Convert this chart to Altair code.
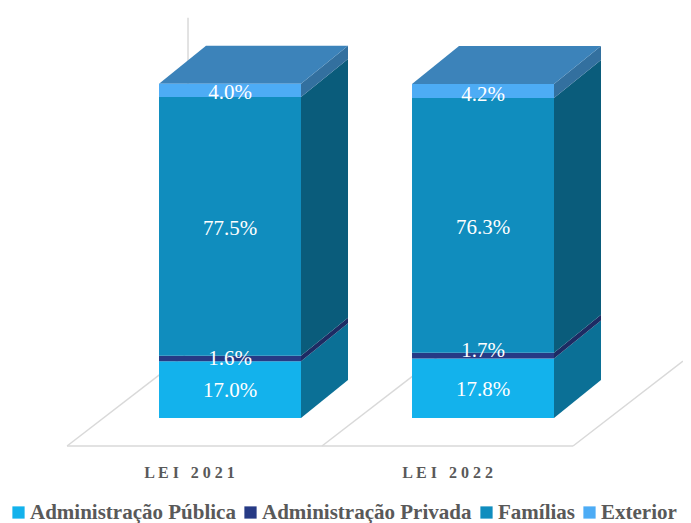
import altair as alt
import pandas as pd

years = ["LEI 2021", "LEI 2022"]
spaced = ["L E I\u2002 2 0 2 1", "L E I\u2002 2 0 2 2"]
label_x = [-0.16, 0.86]
series = ["Administração Pública", "Administração Privada", "Famílias", "Exterior"]
admin_publica = [17.0, 17.8]
admin_privada = [1.6, 1.7]
familias = [77.5, 76.3]
exterior = [4.0, 4.2]
front_colors = ["#13B2EC", "#263A85", "#108DBE", "#4DACF5"]
side_colors = ["#0B7096", "#1D2B63", "#0A5C7B", "#33709F"]
top_color = "#3C83BA"

HALF = 0.2806
DX = 0.1858
DY = 11.38
values = [admin_publica, admin_privada, familias, exterior]

rows = []
for i, y in enumerate(years):
    base = 0.0
    for s, vals in zip(series, values):
        v = vals[i]
        rows.append(dict(year=y, pos=i, series=s, v=v, y0=base, y1=base + v,
                         mid=base + v / 2, label=f"{v:.1f}%",
                         x0=i - HALF, x1=i + HALF))
        base += v
segs = pd.DataFrame(rows)

X = alt.Scale(domain=[-0.8775, 1.7905], nice=False, zero=False)
Y = alt.Scale(domain=[-31.44, 122.75], nice=False, zero=False)
xq = lambda f: alt.X(f, type="quantitative", scale=X, axis=None)
yq = lambda f: alt.Y(f, type="quantitative", scale=Y, axis=None)

# the last floor edge stops where the picture ends
floor = pd.DataFrame([
    dict(x=-0.644, x2=1.356, y=-8.38, y2=-8.38),
    dict(x=-0.644, x2=-0.644 + 0.466, y=-8.38, y2=-8.38 + 27.2),
    dict(x=0.3636, x2=0.3636 + 0.466, y=-8.38, y2=-8.38 + 27.2),
    dict(x=1.356, x2=1.356 + 0.4345, y=-8.38, y2=-8.38 + 25.4),
    dict(x=-0.166, x2=-0.166, y=50, y2=119.8),
])
grid = alt.Chart(floor).mark_rule(color="#D9D9D9", strokeWidth=1.5).encode(
    x=xq("x"), x2="x2", y=yq("y"), y2="y2")

layers = [grid]

# right-hand faces of every segment
for s, c in zip(series, side_colors):
    face = []
    for r in segs[segs.series == s].itertuples():
        face.append(dict(pos=r.pos, x=r.x1, lo=r.y0, hi=r.y1))
        face.append(dict(pos=r.pos, x=r.x1 + DX, lo=r.y0 + DY, hi=r.y1 + DY))
    layers.append(alt.Chart(pd.DataFrame(face)).mark_area(color=c, opacity=1, line=False).encode(
        x=xq("x"), y=yq("lo"), y2="hi", detail="pos:N"))

# top faces
tops = []
for r in segs[segs.series == "Exterior"].itertuples():
    tops.append(dict(pos=r.pos, y=r.y1, a=r.x0, b=r.x1))
    tops.append(dict(pos=r.pos, y=r.y1 + DY, a=r.x0 + DX, b=r.x1 + DX))
layers.append(alt.Chart(pd.DataFrame(tops)).mark_area(color=top_color, orient="horizontal").encode(
    y=yq("y"), x=xq("a"), x2="b", detail="pos:N"))

# front faces, with the legend
bars = alt.Chart(segs).mark_rect().encode(
    x=xq("x0"), x2="x1", y=yq("y0"), y2="y1",
    color=alt.Color("series:N", scale=alt.Scale(domain=series, range=front_colors),
                    legend=alt.Legend(title=None, orient="none", legendX=0, legendY=494,
                                      padding=0,
                                      direction="horizontal", columns=4, symbolType="square",
                                      symbolSize=150, symbolStrokeWidth=0, symbolOpacity=1,
                                      labelFont="Liberation Serif", labelFontSize=21,
                                      labelFontWeight="bold", labelColor="#595959",
                                      labelLimit=300, columnPadding=4, labelOffset=1,
                                      gridAlign="none")),
    order=alt.Order("pos:Q"))
layers.append(bars)

text_style = dict(font="Liberation Serif", fontSize=21, color="white", baseline="middle", align="center")
label_nudges = {"4.0%": 3, "4.2%": 4, "77.5%": 3, "76.3%": 3, "1.6%": 0, "1.7%": -5, "17.0%": 1, "17.8%": 2}
for lab, nudge in label_nudges.items():
    layers.append(alt.Chart(segs[segs.label == lab]).mark_text(dy=nudge, **text_style).encode(
        x=xq("pos"), y=yq("mid"), text="label:N"))

cats = pd.DataFrame(dict(x=label_x, label=spaced, low=[-16.5, -16.5]))
layers.append(alt.Chart(cats).mark_text(font="Liberation Serif", fontSize=16, fontWeight="bold",
                                        color="#595959", baseline="middle", align="center").encode(
    x=xq("x"), y=yq("low"), text="label:N"))

chart = alt.layer(*layers).properties(
    width=675, height=515, padding=0,
    autosize=alt.AutoSizeParams(type="none"),
).configure_view(stroke=None)

chart.save("out.html", embed_options={"renderer": "svg", "actions": False})
